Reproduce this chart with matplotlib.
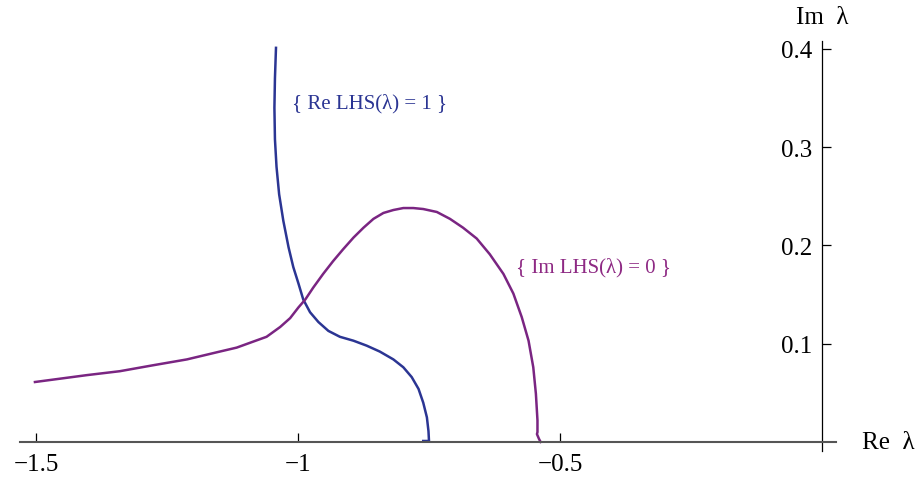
import matplotlib.pyplot as plt

# {Re LHS(lambda) = 1} contour
re_x = [-1.042, -1.044, -1.045, -1.044, -1.041, -1.036, -1.028, -1.018, -1.009,
        -0.999, -0.990, -0.977, -0.961, -0.942, -0.920, -0.894, -0.869, -0.844,
        -0.818, -0.799, -0.783, -0.770, -0.761, -0.754, -0.751, -0.750, -0.761]
re_y = [0.401, 0.370, 0.340, 0.308, 0.280, 0.252, 0.225, 0.198, 0.178,
        0.161, 0.145, 0.132, 0.122, 0.113, 0.107, 0.103, 0.098, 0.092,
        0.084, 0.076, 0.066, 0.054, 0.040, 0.025, 0.011, 0.001, 0.001]

# {Im LHS(lambda) = 0} contour
im_x = [-1.502, -1.403, -1.340, -1.277, -1.212, -1.149, -1.117, -1.086, -1.060,
        -1.034, -1.015, -0.999, -0.986, -0.971, -0.952, -0.933, -0.914, -0.894,
        -0.875, -0.856, -0.837, -0.818, -0.799, -0.780, -0.761, -0.735, -0.710,
        -0.685, -0.659, -0.634, -0.608, -0.589, -0.573, -0.560, -0.551, -0.546,
        -0.543, -0.543, -0.544, -0.540, -0.537]
im_y = [0.061, 0.068, 0.072, 0.078, 0.084, 0.092, 0.096, 0.102, 0.107,
        0.117, 0.126, 0.137, 0.145, 0.157, 0.171, 0.184, 0.196, 0.208,
        0.218, 0.227, 0.233, 0.236, 0.238, 0.238, 0.237, 0.234, 0.227,
        0.218, 0.207, 0.191, 0.171, 0.151, 0.127, 0.103, 0.076, 0.049,
        0.022, 0.010, 0.008, 0.003, 0.000]

x_ticks = [-1.5, -1.0, -0.5]
x_labels = ["\u22121.5", "\u22121", "\u22120.5"]
y_ticks = [0.1, 0.2, 0.3, 0.4]
y_labels = ["0.1", "0.2", "0.3", "0.4"]

blue = "#2b3593"
purple = "#7a2582"

plt.rcParams["font.family"] = ["Liberation Serif", "DejaVu Serif"]

fig = plt.figure(figsize=(9.17, 4.81), dpi=100)
ax = fig.add_axes([0, 0, 1, 1])

ax.plot(re_x, re_y, color=blue, lw=1.8, solid_joinstyle="round")
ax.plot(im_x, im_y, color=purple, lw=1.8, solid_joinstyle="round")

ax.set_xlim(-1.5687, 0.1813)
ax.set_ylim(-0.0387, 0.4507)

for s in ["top", "right"]:
    ax.spines[s].set_visible(False)
ax.spines["left"].set_position(("data", 0))
ax.spines["bottom"].set_position(("data", 0))
ax.spines["left"].set_bounds(-0.009, 0.408)
ax.spines["bottom"].set_bounds(-1.53, 0.027)
ax.spines["left"].set_linewidth(0.9)
ax.spines["bottom"].set_linewidth(1.5)
ax.spines["bottom"].set_color("#555555")

ax.set_xticks(x_ticks, x_labels)
ax.set_yticks(y_ticks, y_labels)
ax.tick_params(axis="x", direction="in", length=6.5, width=0.9, pad=8,
               labelsize=18, color="black")
ax.tick_params(axis="y", direction="in", length=6.5, width=0.9, pad=7,
               labelsize=18)

ax.text(-1.011, 0.345, "{ Re LHS(\u03bb) = 1 }", color=blue, fontsize=15,
        ha="left", va="center")
ax.text(-0.584, 0.178, "{ Im LHS(\u03bb) = 0 }", color="#8e2a84", fontsize=15,
        ha="left", va="center")

ax.text(0.076, 0.0, "Re  \u03bb", fontsize=18, ha="left", va="center")
ax.text(0.0, 0.432, "Im  \u03bb", fontsize=18, ha="center", va="center")

fig.savefig("out.png", dpi=100)
